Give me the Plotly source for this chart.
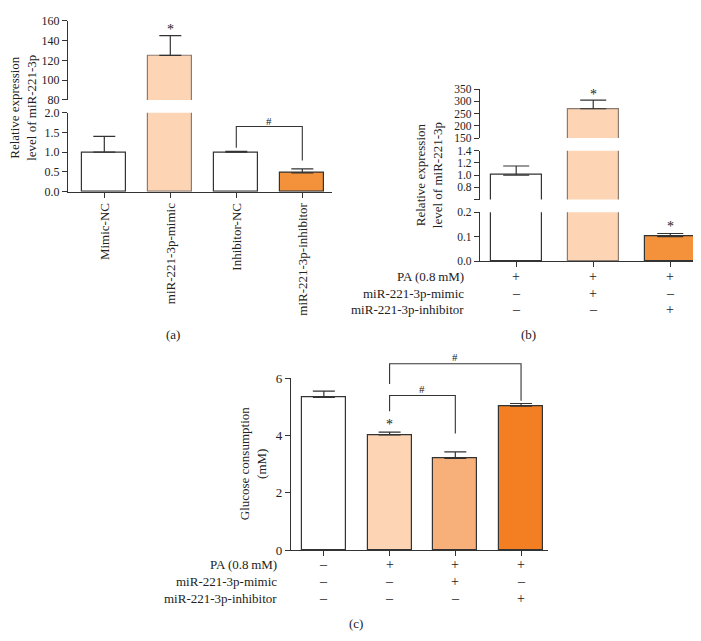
import plotly.graph_objs as go

# ---- data ----
a_labels = ["Mimic-NC", "miR-221-3p-mimic", "Inhibitor-NC", "miR-221-3p-inhibitor"]
a_values = [1.0, 125.0, 1.0, 0.48]
a_errors = [0.40, 20.0, 0.02, 0.10]

b_values = [1.0, 270.0, 0.10]
b_errors = [0.15, 35.0, 0.013]

c_values = [5.33, 4.02, 3.20, 5.03]
c_errors = [0.22, 0.10, 0.23, 0.09]

row_names = ["PA (0.8\u2009mM)", "miR-221-3p-mimic", "miR-221-3p-inhibitor"]
b_pa = ["+", "+", "+"]
b_mimic = ["\u2013", "+", "\u2013"]
b_inhib = ["\u2013", "\u2013", "+"]
c_pa = ["\u2013", "+", "+", "+"]
c_mimic = ["\u2013", "\u2013", "+", "\u2013"]
c_inhib = ["\u2013", "\u2013", "\u2013", "+"]

# ---- styling ----
W, H = 701, 641
FONT = "Liberation Serif"
INK = "#333333"
TXT = "#222222"
WHITE = "#ffffff"
PEACH = "#fdd5b4"
SALMON = "#f8b07b"
ORANGE = "#f3923a"
DEEP = "#f37f22"
a_colors = [WHITE, PEACH, WHITE, ORANGE]
b_colors = [WHITE, PEACH, ORANGE]
c_colors = [WHITE, PEACH, SALMON, DEEP]
a_lines = [INK, "#8c7b70", INK, INK]
b_lines = [INK, "#8c7b70", INK]
c_lines = [INK, INK, INK, INK]

# segments: (bottom px, top px, lo, hi)
SEG_A_LO = (181, 100, 0, 2)
SEG_A_HI = (87, 6, 80, 160)
SEG_B_LO = (252, 202, 0, 0.2)
SEG_B_MID = (189, 139, 0.6, 1.4)
SEG_B_HI = (126, 76, 150, 350)
SEG_C = (548, 372, 0, 6)


def py(p):
    return 1 - p / H


def val_y(v, seg):
    bot, top, lo, hi = seg
    return py(bot - (v - lo) / (hi - lo) * (bot - top))


def yaxis_cfg(seg, xanchor, tickvals, ticktext, size=12):
    bot, top, lo, hi = seg
    return dict(domain=[py(bot), py(top)], range=[lo, hi], anchor=xanchor,
                showline=True, linecolor=INK, linewidth=1.2, ticks="outside", ticklen=5,
                tickcolor=INK, tickwidth=1.2, showgrid=False, zeroline=False,
                tickvals=tickvals, ticktext=ticktext,
                tickfont=dict(family=FONT, size=size, color=TXT))


def xaxis_cfg(px0, px1, rng, yanchor, n, ticktext=None):
    d = dict(domain=[px0 / W, px1 / W], range=rng, anchor=yanchor, showline=True,
             linecolor=INK, linewidth=1.2, ticks="outside", ticklen=5, tickcolor=INK,
             tickwidth=1.2, showgrid=False, zeroline=False, tickvals=list(range(n)),
             tickfont=dict(family=FONT, size=13, color=TXT))
    if ticktext:
        d.update(ticktext=ticktext, tickangle=-90)
    else:
        d.update(showticklabels=False)
    return d


def bars(values, errors, colors, lines, xa, ya, width, cap):
    return go.Bar(x=list(range(len(values))), y=values, xaxis=xa, yaxis=ya, width=width,
                  marker=dict(color=colors, line=dict(color=lines, width=1.2)),
                  error_y=dict(type="data", array=errors, arrayminus=[0] * len(values),
                               symmetric=False, color=INK, thickness=1.2, width=cap),
                  showlegend=False, hoverinfo="skip")


fig = go.Figure()

# (a)
fig.add_trace(bars(a_values, a_errors, a_colors, a_lines, "x", "y", 0.667, 11))
fig.add_trace(bars(a_values, a_errors, a_colors, a_lines, "x", "y2", 0.667, 11))
# (b)
for ya in ["y3", "y4", "y5"]:
    fig.add_trace(bars(b_values, b_errors, b_colors, b_lines, "x2", ya, 0.66, 13))
# (c)
fig.add_trace(bars(c_values, c_errors, c_colors, c_lines, "x3", "y6", 0.67, 11))

fig.update_layout(
    width=W, height=H, autosize=False, margin=dict(l=0, r=0, t=0, b=0),
    paper_bgcolor="white", plot_bgcolor="white", bargap=0,
    font=dict(family=FONT, size=13, color=TXT),
    xaxis=xaxis_cfg(60, 324, [-0.55, 3.45], "y", 4, a_labels),
    yaxis=yaxis_cfg(SEG_A_LO, "x", [0, 0.5, 1.0, 1.5, 2.0], ["0.0", "0.5", "1.0", "1.5", "2.0"]),
    yaxis2=yaxis_cfg(SEG_A_HI, "x", [80, 100, 120, 140, 160], ["80", "100", "120", "140", "160"]),
    xaxis2=xaxis_cfg(472, 700, [-0.47, 2.49], "y3", 3),
    yaxis3=yaxis_cfg(SEG_B_LO, "x2", [0, 0.1, 0.2], ["0.0", "0.1", "0.2"], 11.5),
    yaxis4=yaxis_cfg(SEG_B_MID, "x2", [0.6, 0.8, 1.0, 1.2, 1.4],
                     ["", "0.8", "1.0", "1.2", "1.4"], 11.5),
    yaxis5=yaxis_cfg(SEG_B_HI, "x2", [150, 200, 250, 300, 350],
                     ["150", "200", "250", "300", "350"], 11.5),
    xaxis3=xaxis_cfg(283, 540, [-0.5, 3.41], "y6", 4),
    yaxis6=yaxis_cfg(SEG_C, "x3", [0, 2, 4, 6], ["0", "2", "4", "6"], 13),
)

shapes = []
ann = []


def label(xref, x, y, text, size=13, xanchor="center", angle=0):
    ann.append(dict(xref=xref, yref="paper", x=x, y=y, text=text, showarrow=False,
                    xanchor=xanchor, yanchor="middle", textangle=angle,
                    font=dict(family=FONT, size=size, color=TXT)))


def bracket(xref, x1, x2, top, left_end, right_end, seg):
    shapes.append(dict(type="path", xref=xref, yref="paper",
                       path=f"M {x1},{val_y(left_end, seg)} L {x1},{val_y(top, seg)} "
                            f"L {x2},{val_y(top, seg)} L {x2},{val_y(right_end, seg)}",
                       line=dict(color=INK, width=1.1)))


# significance marks
label("x", 1, val_y(151, SEG_A_HI), "*", 14)
bracket("x", 2, 3, 1.65, 1.11, 0.79, SEG_A_LO)
label("x", 2.5, val_y(1.80, SEG_A_LO), "#", 11)

label("x2", 1, val_y(330, SEG_B_HI), "*", 14)
label("x2", 2, val_y(0.14, SEG_B_LO), "*", 14)

label("x3", 1, val_y(4.38, SEG_C), "*", 14)
bracket("x3", 1, 2, 5.4, 4.85, 4.07, SEG_C)
label("x3", 1.5, val_y(5.63, SEG_C), "#", 11)
bracket("x3", 1, 3, 6.51, 5.80, 5.22, SEG_C)
label("x3", 2, val_y(6.74, SEG_C), "#", 11)

# axis titles
label("paper", 15 / W, py(95), "Relative expression<br>level of miR-221-3p", angle=-90)
label("paper", 421 / W, py(164), "Relative expression<br>level of miR-221-3p", angle=-90)
label("paper", 245 / W, py(459), "Glucose consumption<br>(mM)", angle=-90)

# treatment rows
for rows, xref, right_px, ys in [
    ([b_pa, b_mimic, b_inhib], "x2", 458, [268, 285, 302]),
    ([c_pa, c_mimic, c_inhib], "x3", 271, [563, 580, 597]),
]:
    for name, row, ypx in zip(row_names, rows, ys):
        label("paper", right_px / W, py(ypx), name, xanchor="right")
        for i, s in enumerate(row):
            label(xref, i, py(ypx), s, 14)

# panel letters
for txt, xp, ypx in [("(a)", 165, 327), ("(b)", 520, 327), ("(c)", 348, 623)]:
    label("paper", xp / W, py(ypx), txt)

fig.update_layout(shapes=shapes, annotations=ann)

fig.write_html("out.html")
